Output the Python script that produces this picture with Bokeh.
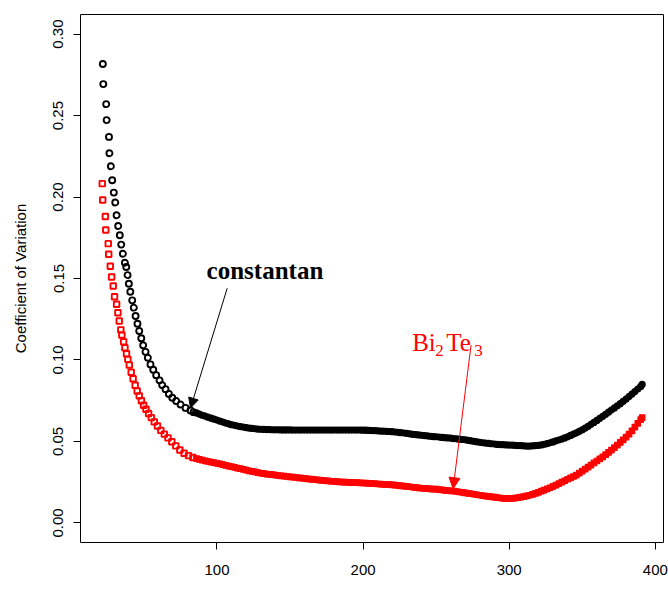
from bokeh.plotting import figure
from bokeh.models import Range1d, FixedTicker, PrintfTickFormatter, Label, Arrow, NormalHead
from bokeh.embed import file_html
from bokeh.resources import INLINE

# ---- data ----
x_ticks = [100, 200, 300, 400]
y_ticks = [0.00, 0.05, 0.10, 0.15, 0.20, 0.25, 0.30]

# constantan: steep part (individually visible points)
const_T_steep = [21.9, 22.2, 24.2, 24.5, 26.1, 26.4, 27.4, 28.3, 29.4, 30.4,
                 31.3, 32.4, 33.5, 34.5, 35.6, 37.0, 37.9, 38.8, 39.7, 40.7,
                 42.0, 43.1, 44.3, 45.6, 46.8, 48.2, 49.5, 51.1, 52.7, 54.5,
                 56.4, 58.4, 60.7, 62.5, 64.8, 67.1, 69.4, 72.1, 75.1, 78.5,
                 81.9, 84.0]
const_cv_steep = [0.2816, 0.2693, 0.2570, 0.2472, 0.2369, 0.2269, 0.2189, 0.2103, 0.2027, 0.1966,
                  0.1888, 0.1822, 0.1765, 0.1708, 0.1652, 0.1597, 0.1571, 0.1521, 0.1468, 0.1419,
                  0.1366, 0.1321, 0.1270, 0.1222, 0.1178, 0.1133, 0.1090, 0.1050, 0.1014, 0.0973,
                  0.0940, 0.0907, 0.0875, 0.0846, 0.0821, 0.0792, 0.0768, 0.0748, 0.0727, 0.0706,
                  0.0690, 0.0680]

# Bi2Te3: steep part
bite_T_steep = [21.5, 21.8, 23.6, 23.9, 25.6, 25.9, 27.0, 27.9, 29.0, 29.9,
                31.3, 32.2, 33.1, 34.2, 34.9, 36.1, 37.0, 38.1, 39.0, 40.0,
                41.3, 42.6, 44.0, 45.4, 46.8, 48.3, 49.8, 51.4, 53.2, 55.1,
                57.1, 59.3, 61.6, 64.0, 66.5, 69.1, 71.8, 74.6, 77.5, 80.5,
                83.5]
bite_cv_steep = [0.2082, 0.1982, 0.1880, 0.1798, 0.1714, 0.1649, 0.1575, 0.1509, 0.1454, 0.1388,
                 0.1342, 0.1290, 0.1239, 0.1185, 0.1153, 0.1112, 0.1075, 0.1038, 0.1004, 0.0969,
                 0.0925, 0.0885, 0.0845, 0.0810, 0.0780, 0.0750, 0.0722, 0.0698, 0.0672, 0.0646,
                 0.0620, 0.0595, 0.0568, 0.0545, 0.0522, 0.0498, 0.0473, 0.0448, 0.0428, 0.0413,
                 0.0402]

# dense part, both series share temperatures
T_dense = [86, 88, 90, 92, 94, 96, 98, 100, 102, 104,
           106, 108, 110, 112, 114, 116, 118, 120, 122, 124,
           126, 128, 130, 132, 134, 136, 138, 140, 142, 144,
           146, 148, 150, 152, 154, 156, 158, 160, 162, 164,
           166, 168, 170, 172, 174, 176, 178, 180, 182, 184,
           186, 188, 190, 192, 194, 196, 198, 200, 202, 204,
           206, 208, 210, 212, 214, 216, 218, 220, 222, 224,
           226, 228, 230, 232, 234, 236, 238, 240, 242, 244,
           246, 248, 250, 252, 254, 256, 258, 260, 262, 264,
           266, 268, 270, 272, 274, 276, 278, 280, 282, 284,
           286, 288, 290, 292, 294, 296, 298, 300, 302, 304,
           306, 308, 310, 312, 314, 316, 318, 320, 322, 324,
           326, 328, 330, 332, 334, 336, 338, 340, 342, 344,
           346, 348, 350, 352, 354, 356, 358, 360, 362, 364,
           366, 368, 370, 372, 374, 376, 378, 380, 382, 384,
           386, 388, 390, 391]

const_cv_dense = [0.0675, 0.0668, 0.0661, 0.0655, 0.0649, 0.0643, 0.0637, 0.0631, 0.0625, 0.0619,
                  0.0613, 0.0608, 0.0603, 0.0599, 0.0595, 0.0591, 0.0588, 0.0585, 0.0582, 0.0580,
                  0.0578, 0.0576, 0.0575, 0.0574, 0.0573, 0.0573, 0.0572, 0.0572, 0.0572, 0.0571,
                  0.0571, 0.0571, 0.0571, 0.0570, 0.0570, 0.0570, 0.0570, 0.0570, 0.0570, 0.0570,
                  0.0570, 0.0570, 0.0570, 0.0570, 0.0570, 0.0570, 0.0570, 0.0570, 0.0570, 0.0570,
                  0.0570, 0.0570, 0.0570, 0.0570, 0.0570, 0.0570, 0.0570, 0.0569, 0.0569, 0.0568,
                  0.0567, 0.0566, 0.0565, 0.0564, 0.0563, 0.0562, 0.0561, 0.0560, 0.0558, 0.0556,
                  0.0554, 0.0552, 0.0550, 0.0547, 0.0544, 0.0542, 0.0540, 0.0538, 0.0536, 0.0534,
                  0.0532, 0.0530, 0.0529, 0.0527, 0.0525, 0.0523, 0.0522, 0.0520, 0.0518, 0.0516,
                  0.0514, 0.0512, 0.0510, 0.0507, 0.0504, 0.0501, 0.0498, 0.0495, 0.0492, 0.0490,
                  0.0488, 0.0486, 0.0484, 0.0482, 0.0481, 0.0480, 0.0479, 0.0478, 0.0477, 0.0476,
                  0.0475, 0.0474, 0.0473, 0.0472, 0.0472, 0.0473, 0.0474, 0.0476, 0.0479, 0.0483,
                  0.0487, 0.0492, 0.0497, 0.0503, 0.0509, 0.0515, 0.0522, 0.0529, 0.0537, 0.0545,
                  0.0553, 0.0562, 0.0572, 0.0582, 0.0593, 0.0605, 0.0617, 0.0629, 0.0642, 0.0654,
                  0.0667, 0.0680, 0.0693, 0.0706, 0.0719, 0.0732, 0.0746, 0.0760, 0.0775, 0.0791,
                  0.0806, 0.0822, 0.0838, 0.0850]

bite_cv_dense = [0.0395, 0.0390, 0.0385, 0.0381, 0.0377, 0.0373, 0.0370, 0.0366, 0.0362, 0.0358,
                 0.0353, 0.0349, 0.0345, 0.0341, 0.0337, 0.0333, 0.0329, 0.0324, 0.0320, 0.0317,
                 0.0313, 0.0309, 0.0305, 0.0303, 0.0300, 0.0298, 0.0296, 0.0294, 0.0291, 0.0289,
                 0.0287, 0.0285, 0.0283, 0.0281, 0.0279, 0.0277, 0.0275, 0.0273, 0.0271, 0.0269,
                 0.0267, 0.0265, 0.0263, 0.0261, 0.0259, 0.0258, 0.0256, 0.0255, 0.0253, 0.0252,
                 0.0251, 0.0250, 0.0249, 0.0248, 0.0247, 0.0247, 0.0246, 0.0245, 0.0244, 0.0243,
                 0.0242, 0.0241, 0.0239, 0.0238, 0.0237, 0.0236, 0.0235, 0.0234, 0.0232, 0.0230,
                 0.0228, 0.0226, 0.0224, 0.0222, 0.0219, 0.0217, 0.0215, 0.0213, 0.0212, 0.0211,
                 0.0209, 0.0208, 0.0207, 0.0205, 0.0203, 0.0200, 0.0198, 0.0197, 0.0196, 0.0193,
                 0.0190, 0.0188, 0.0185, 0.0182, 0.0179, 0.0176, 0.0173, 0.0170, 0.0167, 0.0165,
                 0.0163, 0.0160, 0.0158, 0.0155, 0.0153, 0.0151, 0.0150, 0.0150, 0.0151, 0.0152,
                 0.0155, 0.0158, 0.0162, 0.0166, 0.0170, 0.0175, 0.0181, 0.0188, 0.0195, 0.0202,
                 0.0209, 0.0216, 0.0224, 0.0232, 0.0241, 0.0250, 0.0259, 0.0268, 0.0277, 0.0285,
                 0.0294, 0.0306, 0.0318, 0.0330, 0.0343, 0.0355, 0.0368, 0.0380, 0.0393, 0.0405,
                 0.0419, 0.0433, 0.0447, 0.0462, 0.0478, 0.0494, 0.0510, 0.0527, 0.0545, 0.0565,
                 0.0588, 0.0611, 0.0634, 0.0646]

FONT = "Liberation Sans"
SERIF = "Liberation Serif"
BLACK = "black"
RED = "#ff0000"

p = figure(width=668, height=613,
           x_range=Range1d(6.6, 405.6), y_range=Range1d(-0.012, 0.312),
           output_backend="svg", toolbar_location=None,
           min_border_left=80, min_border_right=5, min_border_top=14, min_border_bottom=71,
           background_fill_color="white", border_fill_color="white")

p.grid.visible = False
p.outline_line_color = "black"
p.outline_line_width = 1
p.outline_line_alpha = 1

p.xaxis.ticker = FixedTicker(ticks=x_ticks)
p.yaxis.ticker = FixedTicker(ticks=y_ticks)
p.xaxis.formatter = PrintfTickFormatter(format="%d")
p.yaxis.formatter = PrintfTickFormatter(format="%.2f")
for ax in (p.xaxis[0], p.yaxis[0]):
    ax.axis_line_color = None
    ax.major_tick_out = 7
    ax.major_tick_in = 0
    ax.major_tick_line_color = "black"
    ax.minor_tick_line_color = None
    ax.major_label_text_font = FONT
    ax.major_label_text_font_size = "15px"
    ax.major_label_text_color = "black"
p.yaxis.major_label_orientation = "vertical"
p.yaxis.major_label_standoff = 10
p.xaxis.major_label_standoff = 15
p.yaxis.axis_label = "Coefficient of Variation"
p.yaxis.axis_label_text_font = FONT
p.yaxis.axis_label_text_font_size = "15px"
p.yaxis.axis_label_text_font_style = "normal"
p.yaxis.axis_label_text_color = "black"
p.yaxis.axis_label_standoff = 22

# steep part: individually visible open markers
p.scatter(const_T_steep, const_cv_steep, marker="circle", size=6, fill_color=None,
          line_color=BLACK, line_width=1.9)
p.scatter(bite_T_steep, bite_cv_steep, marker="square", size=5.5, fill_color=None,
          line_color=RED, line_width=1.9)
# dense part: markers overlap into a solid band
p.scatter(T_dense, const_cv_dense, marker="circle", size=6, fill_color=BLACK,
          line_color=BLACK, line_width=1.2)
p.scatter(T_dense, bite_cv_dense, marker="square", size=5.5, fill_color=RED,
          line_color=RED, line_width=1.2)

# annotations
p.add_layout(Label(x=92.9, y=0.1549, text="constantan", text_font=SERIF,
                   text_font_style="bold", text_font_size="25px",
                   text_color="black", text_baseline="alphabetic"))
p.add_layout(Arrow(end=NormalHead(size=10, fill_color="black", line_color="black"),
                   x_start=107.0, y_start=0.1440, x_end=81.9, y_end=0.0705,
                   line_color="black", line_width=1))

bx, by = 233.6, 0.1106
for txt, dx, dy, fs in [("Bi", 0, 0, "25px"), ("2", 23, -8, "17px"),
                        ("Te", 34, 0, "25px"), ("3", 62, -8, "17px")]:
    p.add_layout(Label(x=bx, y=by, x_offset=dx, y_offset=dy, text=txt,
                       text_font=SERIF, text_font_size=fs, text_color=RED,
                       text_baseline="alphabetic"))
p.add_layout(Arrow(end=NormalHead(size=11, fill_color=RED, line_color=RED),
                   x_start=273.9, y_start=0.1092, x_end=261.6, y_end=0.0210,
                   line_color=RED, line_width=1))

p.add_layout(Label(x=206.1, y=-0.0500, text="Temperature", text_font=FONT,
                   text_font_size="15px", text_color="black",
                   text_align="center", text_baseline="middle"))

open("out.html", "w").write(file_html(p, INLINE))
